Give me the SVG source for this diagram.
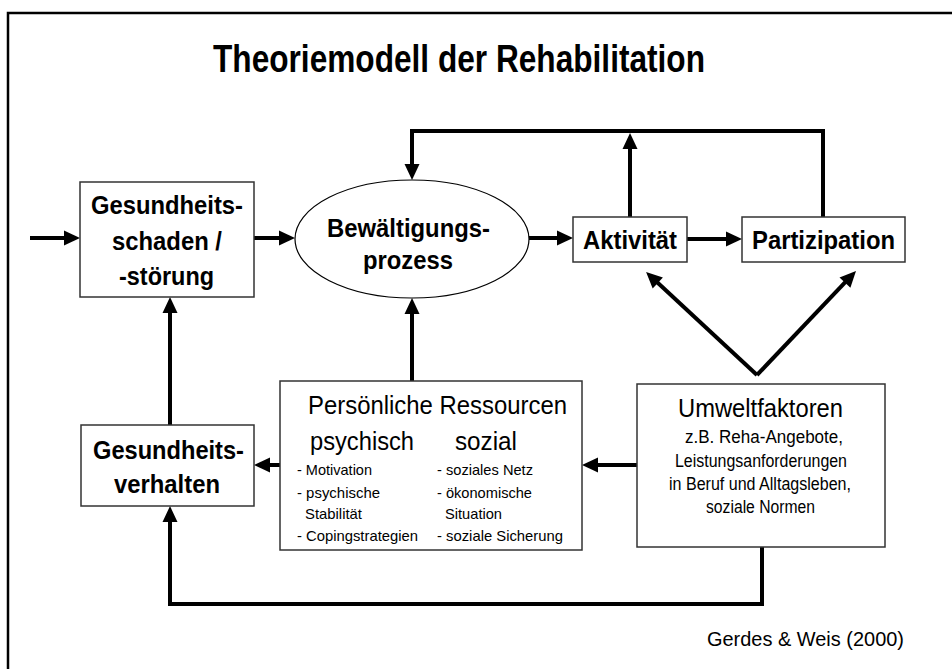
<svg xmlns="http://www.w3.org/2000/svg" width="952" height="669" viewBox="0 0 952 669">
<style>
text{font-family:"Liberation Sans Narrow","Liberation Sans",Arial,sans-serif;fill:#000}
.b{font-weight:bold}
.box{fill:#fff;stroke:#333;stroke-width:1.5}
.con{fill:none;stroke:#000;stroke-width:4;marker-end:url(#ah)}
.ln{fill:none;stroke:#000;stroke-width:4}
</style>
<defs>
<marker id="ah" markerUnits="userSpaceOnUse" markerWidth="16" markerHeight="15" refX="6" refY="7.5" orient="auto" overflow="visible">
<path d="M0,0 L16,7.5 L0,15 z" fill="#000"/>
</marker>
</defs>
<rect x="0" y="0" width="952" height="669" fill="#fff"/>
<rect x="8" y="13" width="980" height="700" fill="none" stroke="#000" stroke-width="2.5"/>
<text class="b" x="213" y="72" font-size="39" textLength="492" lengthAdjust="spacingAndGlyphs">Theoriemodell der Rehabilitation</text>

<g id="connectors">
<line class="con" x1="30" y1="238" x2="70" y2="238"/>
<line class="con" x1="254" y1="238" x2="285" y2="238"/>
<line class="con" x1="529" y1="238" x2="563" y2="238"/>
<line class="con" x1="687" y1="239" x2="732" y2="239"/>
<line class="con" x1="630" y1="217" x2="630" y2="143"/>
<path class="con" d="M823,217 V131 H412 V170"/>
<line class="con" x1="412" y1="381" x2="412" y2="308"/>
<line class="con" x1="170" y1="425" x2="170" y2="307"/>
<line class="con" x1="637" y1="465" x2="592" y2="465"/>
<line class="con" x1="280" y1="465" x2="264" y2="465"/>
<path class="con" d="M762,547 V604 H170 V516"/>
<line class="con" x1="757" y1="375" x2="653.4" y2="278.8"/>
<line class="con" x1="757" y1="375" x2="849.1" y2="278.2"/>
</g>

<g id="gesundheitsschaden">
<rect class="box" x="80" y="182" width="174" height="115"/>
<text class="b" x="91" y="214" font-size="26" textLength="152" lengthAdjust="spacingAndGlyphs">Gesundheits-</text>
<text class="b" x="112" y="249.5" font-size="26" textLength="110" lengthAdjust="spacingAndGlyphs">schaden /</text>
<text class="b" x="119" y="285" font-size="26" textLength="95" lengthAdjust="spacingAndGlyphs">-störung</text>
</g>

<g id="bewaeltigung">
<ellipse cx="412" cy="239" rx="117" ry="59" fill="#fff" stroke="#000" stroke-width="1.2"/>
<text class="b" x="327" y="237" font-size="26" textLength="163" lengthAdjust="spacingAndGlyphs">Bewältigungs-</text>
<text class="b" x="363" y="269" font-size="26" textLength="90" lengthAdjust="spacingAndGlyphs">prozess</text>
</g>

<g id="aktivitaet">
<rect class="box" x="573" y="217" width="114" height="45"/>
<text class="b" x="583" y="249" font-size="26" textLength="94" lengthAdjust="spacingAndGlyphs">Aktivität</text>
</g>

<g id="partizipation">
<rect class="box" x="742" y="217" width="163" height="45"/>
<text class="b" x="752" y="249" font-size="26" textLength="143" lengthAdjust="spacingAndGlyphs">Partizipation</text>
</g>

<g id="gesundheitsverhalten">
<rect class="box" x="81" y="425" width="173" height="81"/>
<text class="b" x="93" y="459" font-size="26" textLength="151" lengthAdjust="spacingAndGlyphs">Gesundheits-</text>
<text class="b" x="114" y="493" font-size="26" textLength="106" lengthAdjust="spacingAndGlyphs">verhalten</text>
</g>

<g id="ressourcen">
<rect class="box" x="280" y="381" width="302" height="169"/>
<text x="308" y="414" font-size="25" textLength="259" lengthAdjust="spacingAndGlyphs">Persönliche Ressourcen</text>
<text x="310" y="450" font-size="25" textLength="104" lengthAdjust="spacingAndGlyphs">psychisch</text>
<text x="455" y="450" font-size="25" textLength="62" lengthAdjust="spacingAndGlyphs">sozial</text>
<text x="297" y="475" font-size="15" textLength="75" lengthAdjust="spacingAndGlyphs">- Motivation</text>
<text x="297" y="498" font-size="15" textLength="83" lengthAdjust="spacingAndGlyphs">- psychische</text>
<text x="305" y="519" font-size="15" textLength="57" lengthAdjust="spacingAndGlyphs">Stabilität</text>
<text x="297" y="541" font-size="15" textLength="121" lengthAdjust="spacingAndGlyphs">- Copingstrategien</text>
<text x="437" y="475" font-size="15" textLength="96" lengthAdjust="spacingAndGlyphs">- soziales Netz</text>
<text x="437" y="498" font-size="15" textLength="95" lengthAdjust="spacingAndGlyphs">- ökonomische</text>
<text x="445" y="519" font-size="15" textLength="57" lengthAdjust="spacingAndGlyphs">Situation</text>
<text x="437" y="541" font-size="15" textLength="126" lengthAdjust="spacingAndGlyphs">- soziale Sicherung</text>
</g>

<g id="umweltfaktoren">
<rect class="box" x="637" y="384" width="248" height="163"/>
<text x="678" y="417" font-size="25" textLength="165" lengthAdjust="spacingAndGlyphs">Umweltfaktoren</text>
<text x="685" y="443" font-size="17.5" textLength="158" lengthAdjust="spacingAndGlyphs">z.B. Reha-Angebote,</text>
<text x="675" y="467" font-size="17.5" textLength="172" lengthAdjust="spacingAndGlyphs">Leistungsanforderungen</text>
<text x="669" y="490" font-size="17.5" textLength="182" lengthAdjust="spacingAndGlyphs">in Beruf und Alltagsleben,</text>
<text x="706" y="513" font-size="17.5" textLength="109" lengthAdjust="spacingAndGlyphs">soziale Normen</text>
</g>

<text x="707" y="646" font-size="20" textLength="197" lengthAdjust="spacingAndGlyphs">Gerdes &amp; Weis (2000)</text>
</svg>
